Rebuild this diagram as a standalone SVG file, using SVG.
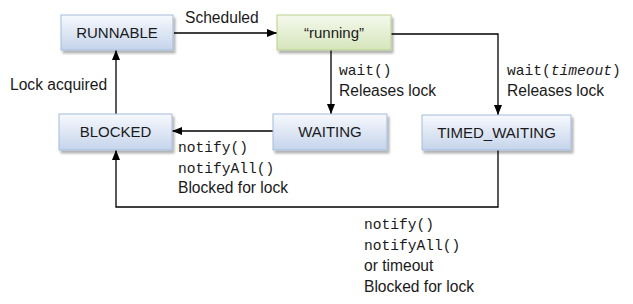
<svg xmlns="http://www.w3.org/2000/svg" width="633" height="304" viewBox="0 0 633 304">
<style>
.lbl{font-family:"Liberation Sans",Arial,sans-serif;font-size:15.6px;fill:#1a1a1a}
.mono{font-family:"Liberation Mono","Courier New",monospace;font-size:14.6px;fill:#1a1a1a}
.name{font-family:"Liberation Sans",Arial,sans-serif;font-size:15px;fill:#1a1a1a;text-anchor:middle}
.blue{fill:url(#gBlue);stroke:#a3bbdc;stroke-width:1}
.green{fill:url(#gGreen);stroke:#b8d08e;stroke-width:1}
.conn{fill:none;stroke:#000;stroke-width:1.3}
</style>
<defs>
<linearGradient id="gBlue" x1="0" y1="0" x2="0" y2="1">
<stop offset="0" stop-color="#f7f9fd"/>
<stop offset="1" stop-color="#c5d4eb"/>
</linearGradient>
<linearGradient id="gGreen" x1="0" y1="0" x2="0" y2="1">
<stop offset="0" stop-color="#f4f9ec"/>
<stop offset="1" stop-color="#d6e5bb"/>
</linearGradient>
<filter id="sh" x="-10%" y="-20%" width="130%" height="160%">
<feDropShadow dx="2" dy="3" stdDeviation="1.3" flood-color="#000" flood-opacity="0.3"/>
</filter>
<marker id="arr" markerUnits="userSpaceOnUse" markerWidth="10" markerHeight="10" viewBox="0 0 10 10" refX="10" refY="5" orient="auto">
<path d="M0,1 L10,5 L0,9 Z" fill="#000"/>
</marker>
</defs>
<g id="connectors">
<path class="conn" d="M174,33 H277" marker-end="url(#arr)"/>
<path class="conn" d="M331,50 V114" marker-end="url(#arr)"/>
<path class="conn" d="M391,34 H498 V115" marker-end="url(#arr)"/>
<path class="conn" d="M273,131 H172" marker-end="url(#arr)"/>
<path class="conn" d="M116,114 V50" marker-end="url(#arr)"/>
<path class="conn" d="M498,150 V207 H116 V150" marker-end="url(#arr)"/>
</g>
<g id="labels">
<text class="lbl" x="185" y="23">Scheduled</text>
<text class="lbl" x="10" y="90">Lock acquired</text>
<text class="mono" x="339" y="75">wait()</text>
<text class="lbl" x="339" y="96">Releases lock</text>
<text class="mono" x="507" y="75">wait(<tspan font-style="italic">timeout</tspan>)</text>
<text class="lbl" x="507" y="96">Releases lock</text>
<text class="mono" x="178" y="152">notify()</text>
<text class="mono" x="178" y="173">notifyAll()</text>
<text class="lbl" x="178" y="193">Blocked for lock</text>
<text class="mono" x="364" y="229">notify()</text>
<text class="mono" x="364" y="250">notifyAll()</text>
<text class="lbl" x="364" y="271">or timeout</text>
<text class="lbl" x="364" y="292">Blocked for lock</text>
</g>
<g id="runnable">
<rect class="blue" x="61" y="15" width="112" height="35" filter="url(#sh)"/>
<text class="name" x="117" y="38">RUNNABLE</text>
</g>
<g id="running">
<rect class="green" x="277" y="15" width="114" height="35" filter="url(#sh)"/>
<text class="name" x="334" y="38">“running”</text>
</g>
<g id="blocked">
<rect class="blue" x="59" y="114" width="113" height="36" filter="url(#sh)"/>
<text class="name" x="115.5" y="137">BLOCKED</text>
</g>
<g id="waiting">
<rect class="blue" x="273" y="114" width="114" height="36" filter="url(#sh)"/>
<text class="name" x="330" y="137">WAITING</text>
</g>
<g id="timed_waiting">
<rect class="blue" x="422" y="115" width="149" height="35" filter="url(#sh)"/>
<text class="name" x="496.5" y="138">TIMED_WAITING</text>
</g>
</svg>
